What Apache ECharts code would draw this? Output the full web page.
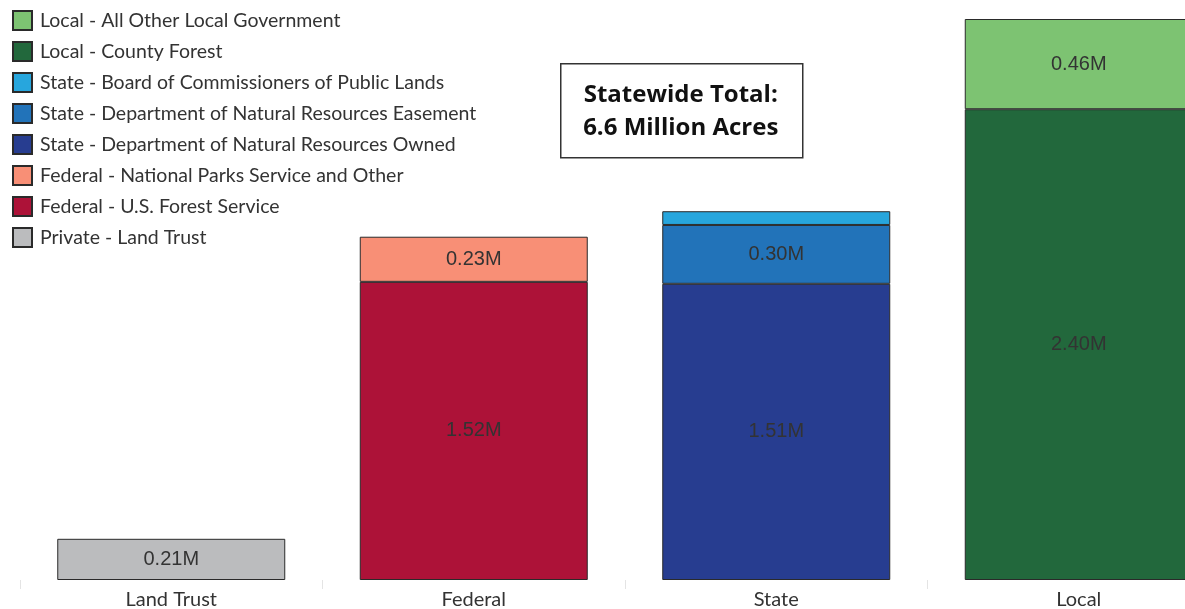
<!DOCTYPE html>
<html>
<head>
<meta charset="utf-8">
<script src="https://cdn.jsdelivr.net/npm/echarts@6/dist/echarts.min.js"></script>
<style>html,body{margin:0;padding:0;background:#fff;}#c{width:1185px;height:609px;}</style>
</head>
<body>
<div id="c"></div>
<script>
const categories = ['Land Trust', 'Federal', 'State', 'Local'];
const seriesNames = [
  'Private - Land Trust',
  'Federal - U.S. Forest Service',
  'Federal - National Parks Service and Other',
  'State - Department of Natural Resources Owned',
  'State - Department of Natural Resources Easement',
  'State - Board of Commissioners of Public Lands',
  'Local - County Forest',
  'Local - All Other Local Government'
];
const landTrust = [0.21, null, null, null];
const usfs = [null, 1.52, null, null];
const nps = [null, 0.23, null, null];
const dnrOwned = [null, null, 1.51, null];
const dnrEasement = [null, null, 0.30, null];
const boardLands = [null, null, 0.07, null];
const countyForest = [null, null, null, 2.40];
const otherLocal = [null, null, null, 0.46];
const legendOrder = [
  'Local - All Other Local Government',
  'Local - County Forest',
  'State - Board of Commissioners of Public Lands',
  'State - Department of Natural Resources Easement',
  'State - Department of Natural Resources Owned',
  'Federal - National Parks Service and Other',
  'Federal - U.S. Forest Service',
  'Private - Land Trust'
];
const colors = ['#bbbcbe', '#ad1238', '#f88f76', '#273d90', '#2273b9', '#27a6dd', '#22683c', '#7dc372'];
const values = [landTrust, usfs, nps, dnrOwned, dnrEasement, boardLands, countyForest, otherLocal];
const showLabel = [true, true, true, true, true, false, true, true];

const chart = echarts.init(document.getElementById('c'), null, {renderer: 'canvas'});
chart.setOption({
  animation: false,
  backgroundColor: '#ffffff',
  grid: {left: 20, top: 19, width: 1210, bottom: 29, containLabel: false, outerBoundsMode: 'none'},
  legend: {
    orient: 'vertical', left: 12, top: 10, padding: 0,
    itemWidth: 19, itemHeight: 19, itemGap: 10,
    icon: 'rect',
    data: legendOrder,
    textStyle: {fontFamily: 'Lato', fontSize: 19.5, lineHeight: 19, color: '#333', padding: [0, 0, 0, 3]},
    selectedMode: false
  },
  xAxis: {
    type: 'category', data: categories,
    axisLine: {show: false},
    axisTick: {show: true, length: 9, lineStyle: {color: '#e4e4e4'}},
    axisLabel: {fontFamily: 'Lato', fontSize: 20, color: '#333', margin: 10}
  },
  yAxis: {type: 'value', min: 0, max: 2.86, show: false, splitLine: {show: false}},
  series: seriesNames.map((n, i) => ({
    name: n, type: 'bar', stack: 'total', data: values[i],
    barWidth: 228,
    itemStyle: {color: colors[i], borderColor: '#2a2a2a', borderWidth: 1},
    label: {
      show: showLabel[i], position: 'inside', color: '#333',
      fontFamily: 'Liberation Sans', fontSize: 20,
      formatter: p => p.value == null ? '' : p.value.toFixed(2) + 'M'
    }
  })),
  graphic: [{
    type: 'group', left: 560, top: 63,
    children: [
      {type: 'rect', shape: {x: 0, y: 0, width: 242, height: 94}, style: {fill: '#fff', stroke: '#333', lineWidth: 1.5}},
      {type: 'text', style: {x: 120, y: 31, text: 'Statewide Total:', align: 'center', verticalAlign: 'middle', font: 'bold 24px "Open Sans"', fill: '#111'}},
      {type: 'text', style: {x: 120, y: 64, text: '6.6 Million Acres', align: 'center', verticalAlign: 'middle', font: 'bold 24px "Open Sans"', fill: '#111'}}
    ]
  }]
});
</script>
</body>
</html>
